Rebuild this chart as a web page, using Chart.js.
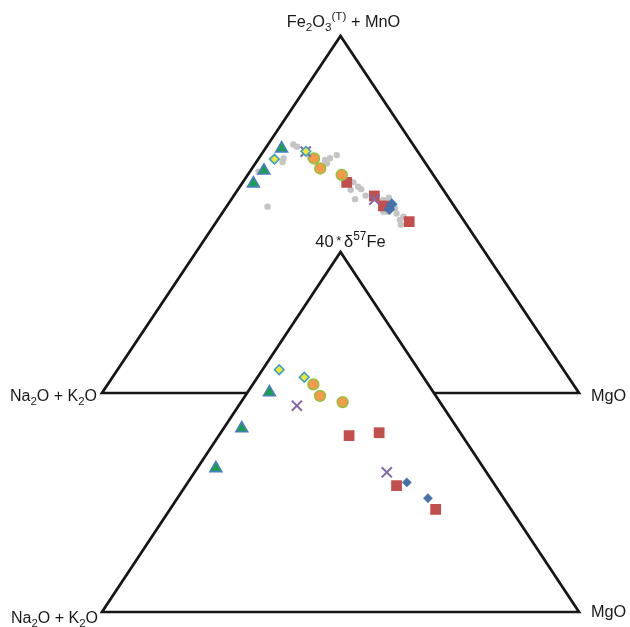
<!DOCTYPE html>
<html>
<head>
<meta charset="utf-8">
<title>Ternary diagrams</title>
<script src="https://cdn.jsdelivr.net/npm/chart.js@4/dist/chart.umd.min.js"></script>
<style>
  html, body { margin: 0; padding: 0; background: #ffffff; }
  #wrap { width: 630px; height: 627px; position: relative; }
</style>
</head>
<body>
<div id="wrap"><canvas id="chart" width="630" height="627"></canvas></div>
<script>
// Each row is one sample: [top component, left component, right component] in %.

// Upper diagram: Fe2O3(T)+MnO (top) / Na2O+K2O (left) / MgO (right)
const upperGreenTriangles = [[68.5, 28.1, 3.4], [62.3, 34.9, 2.8], [58.7, 38.9, 2.4]];
const upperYellowDiamonds = [[65.5, 31.1, 3.4], [67.7, 23.4, 8.9]];
const upperOrangeCircles  = [[65.7, 22.7, 11.6], [62.9, 22.8, 14.3], [61.1, 19.2, 19.7]];
const upperRedSquares     = [[59.0, 19.2, 21.8], [55.2, 15.3, 29.5], [52.4, 14.8, 32.8], [48.0, 11.6, 40.4]];
const upperPurpleCrosses  = [[67.6, 23.5, 8.9], [54.2, 15.8, 30.0]];
const upperBlueDiamonds   = [[52.9, 12.8, 34.3], [51.5, 14.0, 34.5]];
const upperGreyField = [
  [69.6, 25.1, 5.3], [69.0, 24.6, 6.4], [65.7, 29.1, 5.2], [64.7, 29.8, 5.5],
  [62.0, 36.2, 1.8], [66.0, 23.4, 10.6], [65.3, 20.6, 14.1], [65.7, 19.3, 14.9],
  [64.3, 20.7, 15.0], [66.7, 17.5, 15.9], [52.2, 39.2, 8.6], [59.0, 17.8, 23.2],
  [57.8, 17.4, 24.8], [57.1, 17.1, 25.8], [56.9, 19.4, 23.7], [54.3, 19.8, 25.9],
  [55.3, 17.1, 27.6], [50.8, 14.9, 34.3], [54.1, 14.0, 31.9], [51.7, 12.7, 35.6],
  [50.3, 13.1, 36.6], [49.4, 12.1, 38.5], [48.5, 13.3, 38.2], [47.1, 13.8, 39.1],
  [54.7, 12.5, 32.8], [50.8, 15.6, 33.6]
];

// Lower diagram: 40*δ57Fe (top) / Na2O+K2O (left) / MgO (right)
const lowerGreenTriangles = [[61.0, 34.4, 4.6], [51.0, 45.2, 3.8], [39.9, 56.1, 3.9]];
const lowerYellowDiamonds = [[67.3, 29.2, 3.5], [65.2, 25.0, 9.8]];
const lowerOrangeCircles  = [[63.3, 24.1, 12.7], [60.1, 24.3, 15.7], [58.3, 20.4, 21.3]];
const lowerRedSquares     = [[49.0, 23.7, 27.3], [49.8, 17.0, 33.2], [35.1, 20.7, 44.2], [28.5, 15.8, 55.7]];
const lowerPurpleCrosses  = [[57.3, 30.5, 12.2], [38.8, 20.9, 40.3]];
const lowerBlueDiamonds   = [[36.0, 18.1, 45.9], [31.9, 16.0, 53.0]];

// Corner compositions used for the triangle outlines
const cornerLeft  = [0, 100, 0];
const cornerTop   = [100, 0, 0];
const cornerRight = [0, 0, 100];

// Apex / corner labels: pieces of rich text (sub = subscript, sup = superscript)
const upperTopLabel   = [{t: 'Fe'}, {t: '2', sub: true}, {t: 'O'}, {t: '3', sub: true}, {t: '(T)', sup: true}, {t: ' + MnO'}];
const lowerTopLabel   = [{t: '40'}, {t: '\u2009*\u2009', small: true}, {t: 'δ'}, {t: '57', sup: true}, {t: 'Fe'}];
const alkaliLabel     = [{t: 'Na'}, {t: '2', sub: true}, {t: 'O + K'}, {t: '2', sub: true}, {t: 'O'}];
const magnesiaLabel   = [{t: 'MgO'}];

// Vertical placement of the two diagrams on a shared y axis
const panels = {
  upper: { base: 0.6083, height: 0.9917 },
  lower: { base: 0, height: 1 }
};

function toXY(row, panel) {
  const sum = row[0] + row[1] + row[2];
  const top = row[0] / sum, right = row[2] / sum;
  return { x: right + top / 2, y: panel.base + panel.height * top };
}

function series(rows, panel, style, order) {
  return Object.assign({
    type: 'scatter',
    data: rows.map(r => toXY(r, panel)),
    order: order,
    clip: false
  }, style);
}

function outline(panel, order) {
  return {
    type: 'scatter',
    data: [cornerLeft, cornerTop, cornerRight, cornerLeft, cornerTop].map(r => toXY(r, panel)),
    showLine: true,
    borderColor: '#161616',
    borderWidth: 2.7,
    borderJoinStyle: 'miter',
    pointRadius: 0,
    fill: false,
    order: order,
    clip: false
  };
}

const styles = {
  grey:   { pointStyle: 'circle', pointRadius: 3.2, backgroundColor: '#c4c4c4', borderWidth: 0 },
  green:  { pointStyle: 'triangle', pointRadius: 6.8, backgroundColor: '#17a24a', borderColor: '#4a7cc0', borderWidth: 1.6 },
  yellow: { pointStyle: 'rectRot', pointRadius: 4.8, backgroundColor: '#f3e534', borderColor: '#3aa0c6', borderWidth: 1.6 },
  orange: { pointStyle: 'circle', pointRadius: 5.4, backgroundColor: '#f49a48', borderColor: '#93c140', borderWidth: 1.6 },
  red:    { pointStyle: 'rect', pointRadius: 7.6, backgroundColor: '#c24f4c', borderColor: '#c24f4c', borderWidth: 0 },
  purple: { pointStyle: 'crossRot', pointRadius: 7.2, borderColor: '#8466a6', borderWidth: 2 },
  blueU:  { pointStyle: 'rectRot', pointRadius: 5.6, backgroundColor: '#4671aa', borderColor: '#4671aa', borderWidth: 0.5 },
  blueL:  { pointStyle: 'rectRot', pointRadius: 4.6, backgroundColor: '#4671aa', borderColor: '#4671aa', borderWidth: 0.5 }
};

const datasets = [
  outline(panels.upper, 100),
  series(upperGreyField, panels.upper, styles.grey, 90),
  series(upperRedSquares, panels.upper, styles.red, 86),
  series(upperOrangeCircles, panels.upper, styles.orange, 85),
  series(upperPurpleCrosses, panels.upper, styles.purple, 84),
  series(upperBlueDiamonds, panels.upper, styles.blueU, 83),
  series(upperYellowDiamonds, panels.upper, styles.yellow, 82),
  series(upperGreenTriangles, panels.upper, styles.green, 81),
  // white body of the lower triangle, hiding the upper base line behind it
  {
    type: 'scatter',
    data: [cornerLeft, cornerTop, cornerRight].map(r => toXY(r, panels.lower)),
    showLine: true,
    borderWidth: 0,
    pointRadius: 0,
    backgroundColor: '#ffffff',
    fill: 'start',
    order: 60
  },
  outline(panels.lower, 59),
  series(lowerRedSquares, panels.lower, styles.red, 56),
  series(lowerOrangeCircles, panels.lower, styles.orange, 55),
  series(lowerPurpleCrosses, panels.lower, styles.purple, 54),
  series(lowerBlueDiamonds, panels.lower, styles.blueL, 53),
  series(lowerYellowDiamonds, panels.lower, styles.yellow, 52),
  series(lowerGreenTriangles, panels.lower, styles.green, 51)
];

const FONT = '"Liberation Sans", Arial, Helvetica, sans-serif';

function drawRich(ctx, parts, x, y, align, size) {
  const fontOf = p => Math.round((p.sub || p.sup ? 0.72 : p.small ? 0.8 : 1) * size * 10) / 10 + 'px ' + FONT;
  let w = 0;
  for (const p of parts) { ctx.font = fontOf(p); w += ctx.measureText(p.t).width; }
  let cx = align === 'right' ? x - w : align === 'center' ? x - w / 2 : x;
  for (const p of parts) {
    ctx.font = fontOf(p);
    const dy = p.sub ? 0.27 * size : p.sup ? -0.4 * size : p.small ? -0.15 * size : 0;
    ctx.fillText(p.t, cx, y + dy);
    cx += ctx.measureText(p.t).width;
  }
}

const cornerLabels = {
  id: 'cornerLabels',
  afterDatasetsDraw(chart) {
    const ctx = chart.ctx;
    const xs = chart.scales.x, ys = chart.scales.y;
    const px = (row, panel) => {
      const p = toXY(row, panel);
      return { x: xs.getPixelForValue(p.x), y: ys.getPixelForValue(p.y) };
    };
    ctx.save();
    ctx.fillStyle = '#1a1a1a';
    ctx.textBaseline = 'alphabetic';
    // upper diagram
    let t = px(cornerTop, panels.upper), l = px(cornerLeft, panels.upper), r = px(cornerRight, panels.upper);
    drawRich(ctx, upperTopLabel, t.x + 3, t.y - 9, 'center', 16.3);
    drawRich(ctx, alkaliLabel, l.x - 5, l.y + 8, 'right', 16);
    drawRich(ctx, magnesiaLabel, r.x + 12, r.y + 8, 'left', 16.3);
    // lower diagram
    t = px(cornerTop, panels.lower); l = px(cornerLeft, panels.lower); r = px(cornerRight, panels.lower);
    drawRich(ctx, lowerTopLabel, t.x + 10, t.y - 5, 'center', 16.5);
    drawRich(ctx, alkaliLabel, l.x - 4, l.y + 11, 'right', 16);
    drawRich(ctx, magnesiaLabel, r.x + 12, r.y + 5, 'left', 16.3);
    ctx.restore();
  }
};

new Chart(document.getElementById('chart'), {
  type: 'scatter',
  data: { datasets: datasets },
  options: {
    responsive: false,
    animation: false,
    devicePixelRatio: 1,
    layout: { padding: { left: 102, right: 51, top: 36, bottom: 15 } },
    scales: {
      x: { type: 'linear', min: 0, max: 1, display: false },
      y: { type: 'linear', min: 0, max: 1.6, display: false }
    },
    plugins: { legend: { display: false }, tooltip: { enabled: false } },
    elements: { line: { tension: 0 } }
  },
  plugins: [cornerLabels]
});
</script>
</body>
</html>
